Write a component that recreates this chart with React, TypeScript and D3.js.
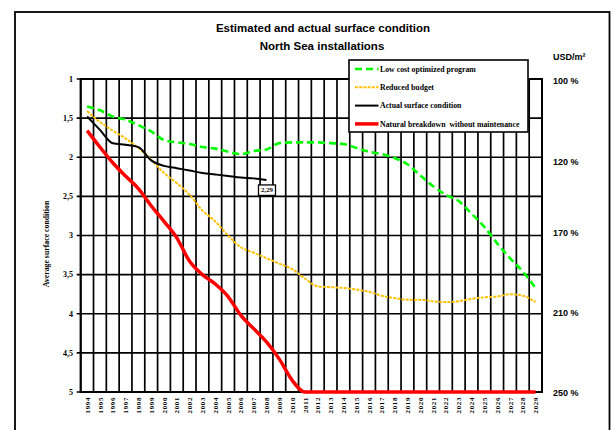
import React from 'react';
import * as d3 from 'd3';

const years = [
    '1994', '1995', '1996', '1997', '1998', '1999', '2000', '2001', '2002', '2003', '2004', '2005',
    '2006', '2007', '2008', '2009', '2010', '2011', '2012', '2013', '2014', '2015', '2016', '2017',
    '2018', '2019', '2020', '2021', '2022', '2023', '2024', '2025', '2026', '2027', '2028', '2029',
];

// low cost optimized program (green, dashed)
const low_cost = [
    1.35, 1.4, 1.48, 1.52, 1.59, 1.67, 1.78, 1.81, 1.83, 1.87, 1.89, 1.93,
    1.96, 1.92, 1.9, 1.82, 1.81, 1.81, 1.81, 1.82, 1.83, 1.88, 1.93, 1.96,
    2.01, 2.09, 2.23, 2.37, 2.48, 2.56, 2.72, 2.89, 3.1, 3.29, 3.46, 3.67,
];

// reduced budget (orange, dotted)
const reduced_budget = [
    1.41, 1.55, 1.66, 1.76, 1.88, 2.03, 2.2, 2.33, 2.48, 2.68, 2.82, 3.0,
    3.15, 3.22, 3.29, 3.36, 3.43, 3.55, 3.65, 3.66, 3.67, 3.69, 3.72, 3.77,
    3.8, 3.82, 3.82, 3.84, 3.85, 3.84, 3.81, 3.79, 3.78, 3.75, 3.77, 3.85,
];

// actual surface condition (black), only measured until 2008
const actual = [1.48, 1.65, 1.82, 1.84, 1.87, 2.04, 2.11, 2.14, 2.17, 2.2, 2.22, 2.24, 2.26, 2.27, 2.29];

// natural breakdown without maintenance (red)
const breakdown = [
    1.66, 1.87, 2.07, 2.24, 2.4, 2.62, 2.82, 3.03, 3.33, 3.5, 3.62, 3.78,
    4.02, 4.19, 4.36, 4.58, 4.85, 5, 5, 5, 5, 5, 5, 5,
    5, 5, 5, 5, 5, 5, 5, 5, 5, 5, 5, 5,
];

const y_ticks = [1, 1.5, 2, 2.5, 3, 3.5, 4, 4.5, 5];
const cost_labels = ['100 %', '120 %', '170 %', '210 %', '250 %'];
const cost_levels = [1.03, 2.06, 2.96, 3.99, 5.01];

const legend_items = [
    { name: 'Low cost optimized program', color: '#00ff00', width: 2.6, dash: '7,4' },
    { name: 'Reduced budget', color: '#ffc000', width: 2, dash: '3,1.2' },
    { name: 'Actual surface condition', color: '#000000', width: 2, dash: null },
    { name: 'Natural breakdown  without maintenance', color: '#ff0000', width: 3.5, dash: null },
];

const serif = '"Liberation Serif", "Times New Roman", serif';
const sans = '"Liberation Sans", Arial, sans-serif';

export default function App() {
    const width = 611;
    const height = 430;
    const plot = { left: 80.7, right: 542, top: 79, bottom: 392 };

    const x = d3.scaleBand<string>().domain(years).range([plot.left, plot.right]).padding(0);
    const y = d3.scaleLinear().domain([1, 5]).range([plot.top, plot.bottom]);
    const cx = (i: number) => (x(years[i]) as number) + x.bandwidth() / 2;

    const line = d3
        .line<number>()
        .x((_, i) => cx(i))
        .y((d) => y(d))
        .curve(d3.curveMonotoneX);

    const series = [
        { data: low_cost, ...legend_items[0] },
        { data: reduced_budget, ...legend_items[1] },
        { data: actual, ...legend_items[2] },
        { data: breakdown, ...legend_items[3] },
    ];

    const last = actual.length - 1;
    const label_x = cx(last);
    const label_y = y(actual[last]) + 10;

    const legend = { x: 349, y: 60, w: 179, h: 72 };

    return (
        <svg
            width={width}
            height={height}
            style={{ position: 'absolute', left: 0, top: 0, background: '#fff' }}
        >
            <rect x={15} y={12} width={594.5} height={440} fill="#fff" stroke="#000" strokeWidth={1.8} />

            <text x={323} y={32} textAnchor="middle" fontFamily={sans} fontWeight="bold" fontSize={11.5}>
                Estimated and actual surface condition
            </text>
            <text x={322} y={50} textAnchor="middle" fontFamily={sans} fontWeight="bold" fontSize={11.5}>
                North Sea installations
            </text>

            {/* grid */}
            <g stroke="#000" strokeWidth={1.7}>
                {years.map((yr) => (
                    <line key={yr} x1={x(yr)} x2={x(yr)} y1={plot.top} y2={plot.bottom} />
                ))}
                {y_ticks.map((t) => (
                    <line key={t} x1={plot.left - 4} x2={plot.right} y1={y(t)} y2={y(t)} />
                ))}
                <rect
                    x={plot.left}
                    y={plot.top}
                    width={plot.right - plot.left}
                    height={plot.bottom - plot.top}
                    fill="none"
                    strokeWidth={2}
                />
            </g>

            {/* left axis */}
            {y_ticks.map((t) => (
                <text
                    key={t}
                    x={73}
                    y={y(t)}
                    dy="0.35em"
                    textAnchor="end"
                    fontFamily={serif}
                    fontWeight="bold"
                    fontSize={8}
                >
                    {String(t).replace('.', ',')}
                </text>
            ))}
            <text
                transform={`translate(49,244) rotate(-90)`}
                textAnchor="middle"
                fontFamily={serif}
                fontWeight="bold"
                fontSize={7.8}
            >
                Average surface condition
            </text>

            {/* year labels */}
            {years.map((yr, i) => (
                <text
                    key={yr}
                    transform={`translate(${cx(i) + 2.6},397) rotate(-90)`}
                    textAnchor="end"
                    fontFamily={serif}
                    fontWeight="bold"
                    fontSize={7}
                    letterSpacing={0.6}
                >
                    {yr}
                </text>
            ))}

            {/* right labels */}
            <text x={553} y={60} fontFamily={sans} fontWeight="bold" fontSize={9}>
                USD/m²
            </text>
            {cost_labels.map((l, i) => (
                <text
                    key={l}
                    x={553}
                    y={y(cost_levels[i])}
                    dy="0.35em"
                    fontFamily={sans}
                    fontWeight="bold"
                    fontSize={9}
                >
                    {l}
                </text>
            ))}

            {/* series */}
            {series.map((s) => (
                <path
                    key={s.name}
                    d={line(s.data) as string}
                    fill="none"
                    stroke={s.color}
                    strokeWidth={s.width}
                    strokeDasharray={s.dash || undefined}
                />
            ))}

            {/* last actual value */}
            <rect x={label_x - 8} y={label_y - 5} width={17} height={10.5} fill="#fff" stroke="#000" strokeWidth={1.3} />
            <text
                x={label_x + 0.5}
                y={label_y}
                dy="0.35em"
                textAnchor="middle"
                fontFamily={serif}
                fontWeight="bold"
                fontSize={6.8}
            >
                {String(actual[last]).replace('.', ',')}
            </text>

            {/* legend */}
            <rect x={legend.x} y={legend.y} width={legend.w} height={legend.h} fill="#fff" stroke="#000" strokeWidth={1.6} />
            {legend_items.map((it, i) => {
                const ly = legend.y + 9 + i * 18.3;
                return (
                    <g key={it.name}>
                        <line
                            x1={355}
                            x2={378.5}
                            y1={ly}
                            y2={ly}
                            stroke={it.color}
                            strokeWidth={it.width}
                            strokeDasharray={it.dash || undefined}
                        />
                        <text
                            x={380}
                            y={ly}
                            dy="0.35em"
                            fontFamily={serif}
                            fontWeight="bold"
                            fontSize={7.8}
                            style={{ whiteSpace: 'pre' }}
                        >
                            {it.name}
                        </text>
                    </g>
                );
            })}
        </svg>
    );
}
